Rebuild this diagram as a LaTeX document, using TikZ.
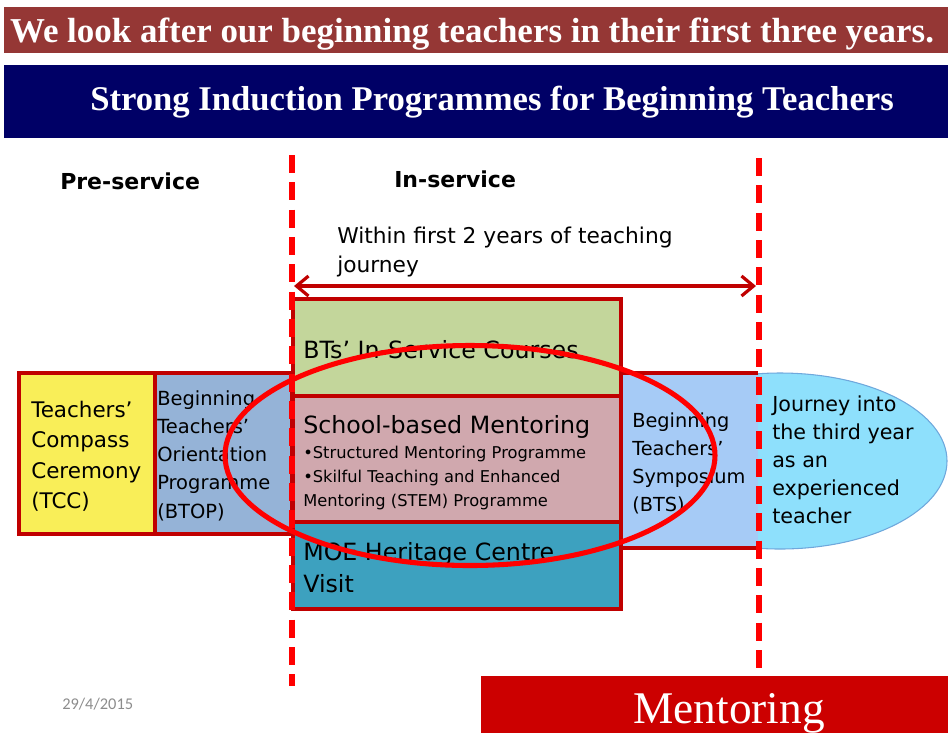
\documentclass[tikz,border=0pt]{standalone}
\usepackage{fontspec}
\usepackage{xcolor}
\usepackage{tikz}
\usetikzlibrary{arrows.meta}
\newfontfamily\tahfont{DejaVu Sans}
\newfontfamily\cambfont{Liberation Serif}
\newfontfamily\calfont{Carlito}
\definecolor{bannerbrown}{HTML}{953735}
\definecolor{bannernavy}{HTML}{000066}
\definecolor{boxred}{HTML}{C00000}
\definecolor{cutred}{HTML}{FF0000}
\definecolor{mentorred}{HTML}{CC0000}
\definecolor{tccyellow}{HTML}{F9EE58}
\definecolor{btopblue}{HTML}{95B3D7}
\definecolor{coursegreen}{HTML}{C3D69B}
\definecolor{mentorpink}{HTML}{D0A8AE}
\definecolor{heritageteal}{HTML}{3DA1BF}
\definecolor{btsblue}{HTML}{A6CBF6}
\definecolor{ellcyan}{HTML}{8EE0FC}
\definecolor{ellblue}{HTML}{6FA8DC}
\definecolor{dategray}{HTML}{8C8C8C}

\begin{document}
\begin{tikzpicture}[x=0.75pt,y=0.75pt,yscale=-1,xscale=1,
	boxline/.style={draw=boxred,line width=2.4pt},
	cutline/.style={draw=cutred,line width=4.5pt,dash pattern=on 13.5pt off 7pt},
	bodytext/.style={anchor=north west,inner sep=0pt,align=left,text=black},
	headtext/.style={anchor=base,inner sep=0pt,text=white}]
	\useasboundingbox (0,0) rectangle (948,733);
	
	%Shape: Ellipse [journey]
	\draw [draw=ellblue,fill=ellcyan,line width=0.8pt] (780,461) ellipse [x radius=167, y radius=88];
	%Shape: Rectangle [TCC]
	\draw [boxline,fill=tccyellow] (19,373) rectangle (155,534);
	%Shape: Rectangle [BTOP]
	\draw [boxline,fill=btopblue] (155,373) rectangle (292,534);
	%Shape: Rectangle [courses]
	\draw [boxline,fill=coursegreen] (293,299) rectangle (621,396);
	%Shape: Rectangle [school mentoring]
	\draw [boxline,fill=mentorpink] (293,396) rectangle (621,522);
	%Shape: Rectangle [heritage]
	\draw [boxline,fill=heritageteal] (293,522) rectangle (621,609);
	%Shape: Rectangle [BTS]
	\fill [btsblue] (621,373) rectangle (758,548);
	\draw [boxline] (758,373) -- (621,373) -- (621,548) -- (758,548);
	
	% Text Node
	\node [anchor=base west,inner sep=0pt,font=\tahfont\bfseries\fontsize{16.5}{20}\selectfont] (pre) at (60,189) {Pre-service};
	% Text Node
	\node [anchor=base west,inner sep=0pt,font=\tahfont\bfseries\fontsize{16.5}{20}\selectfont] (in) at (394,187) {In-service};
	% Text Node
	\node [bodytext,font=\tahfont\fontsize{16.3}{21.75}\selectfont] (within) at (337,226.5) {Within first 2 years of teaching\\journey};
	% Text Node
	\node [bodytext,font=\tahfont\fontsize{16.1}{22.7}\selectfont] (tcc) at (31,401) {Teachers’\\Compass\\Ceremony\\(TCC)};
	% Text Node
	\node [bodytext,font=\tahfont\fontsize{14.6}{21.2}\selectfont] (btop) at (157,390) {Beginning\\Teachers’\\Orientation\\Programme\\(BTOP)};
	% Text Node
	\node [bodytext,font=\tahfont\fontsize{17.8}{24}\selectfont] (courses) at (303,340) {BTs’ In-Service Courses};
	% Text Node
	\node [bodytext,font=\tahfont\fontsize{17.8}{24}\selectfont] (school) at (303,415) {School-based Mentoring};
	% Text Node
	\node [bodytext,font=\tahfont\fontsize{12.2}{18}\selectfont] (bullets) at (303,445.5) {•Structured Mentoring Programme\\•Skilful Teaching and Enhanced\\Mentoring (STEM) Programme};
	% Text Node
	\node [bodytext,font=\tahfont\fontsize{17.8}{24}\selectfont] (heritage) at (303,542) {MOE Heritage Centre\\Visit};
	% Text Node
	\node [bodytext,font=\tahfont\fontsize{14.5}{21}\selectfont] (bts) at (632,413) {Beginning\\Teachers’\\Symposium\\(BTS)};
	% Text Node
	\node [bodytext,font=\tahfont\fontsize{15.5}{21}\selectfont] (third) at (772,396) {Journey into\\the third year\\as an\\experienced\\teacher};
	
	%Straight Lines [cuts]
	\coordinate (cutLtop) at (292,155);
	\coordinate (cutLbot) at (292,686);
	\coordinate (cutRtop) at (759,158);
	\coordinate (cutRbot) at (759,676);
	\draw [cutline] (cutLtop) -- (cutLbot);
	\draw [cutline] (cutRtop) -- (cutRbot);
	%Straight Lines [two years]
	\coordinate (spanL) at (294,286);
	\coordinate (spanR) at (756,286);
	\draw [boxred,line width=2.4pt,{Straight Barb[length=9pt,width=15pt]}-{Straight Barb[length=9pt,width=15pt]}] (spanL) -- (spanR);
	%Shape: Ellipse [focus]
	\draw [cutred,line width=3.8pt] (470,455.5) ellipse [x radius=245, y radius=110];
	
	%Shape: Rectangle [banners]
	\fill [bannerbrown] (4,7) rectangle (948,53);
	\node [headtext,font=\cambfont\bfseries\fontsize{26.2}{30}\selectfont] (motto) at (472,42) {We look after our beginning teachers in their first three years.};
	\fill [bannernavy] (4,65) rectangle (948,138);
	\node [headtext,font=\cambfont\bfseries\fontsize{26}{30}\selectfont] (title) at (492,110) {Strong Induction Programmes for Beginning Teachers};
	%Shape: Rectangle [mentoring]
	\fill [mentorred] (481,676) rectangle (948,733);
	\node [headtext,font=\cambfont\fontsize{34}{36}\selectfont] (mentoring) at (729,723) {Mentoring};
	% Text Node
	\node [anchor=base west,inner sep=0pt,text=dategray,font=\calfont\fontsize{12.3}{14}\selectfont] (date) at (62,709) {29/4/2015};
	
\end{tikzpicture}
\end{document}
